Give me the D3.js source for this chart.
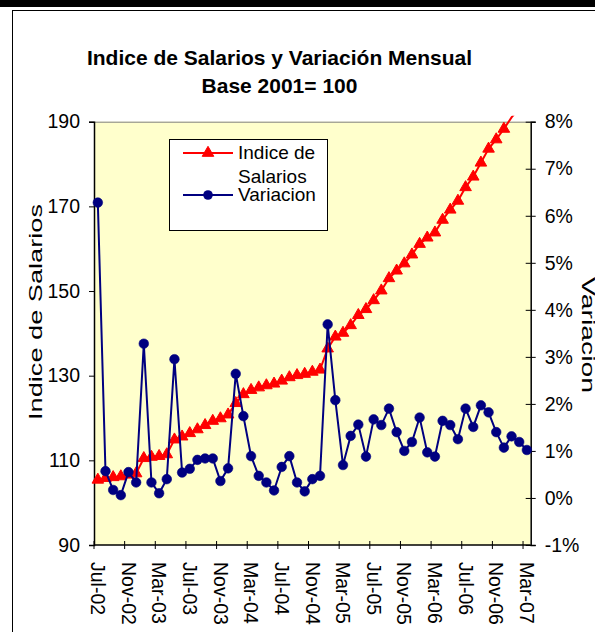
<!DOCTYPE html>
<html>
<head>
<meta charset="utf-8">
<script src="https://cdn.jsdelivr.net/npm/d3@7"></script>
<style>
  body { margin: 0; background: #fff; }
  text { font-family: "Liberation Sans", Arial, sans-serif; fill: #000; }
  .title { font-weight: bold; font-size: 21px; }
  .tick-label { font-size: 19.5px; }
  .axis-title { font-size: 19px; }
  .legend-text { font-size: 19px; }
</style>
</head>
<body>
<svg class="chart-svg" width="595" height="632"></svg>
<script>

// months on the category axis, Jul-02 .. Mar-07
var months = ["Jul-02","Aug-02","Sep-02","Oct-02","Nov-02","Dec-02",
	"Jan-03","Feb-03","Mar-03","Apr-03","May-03","Jun-03","Jul-03","Aug-03","Sep-03","Oct-03","Nov-03","Dec-03",
	"Jan-04","Feb-04","Mar-04","Apr-04","May-04","Jun-04","Jul-04","Aug-04","Sep-04","Oct-04","Nov-04","Dec-04",
	"Jan-05","Feb-05","Mar-05","Apr-05","May-05","Jun-05","Jul-05","Aug-05","Sep-05","Oct-05","Nov-05","Dec-05",
	"Jan-06","Feb-06","Mar-06","Apr-06","May-06","Jun-06","Jul-06","Aug-06","Sep-06","Oct-06","Nov-06","Dec-06",
	"Jan-07","Feb-07","Mar-07"];

// Indice de Salarios (left axis)
var indice = [105.4, 105.8, 106.0, 106.2, 106.6, 106.9, 110.5, 110.8, 111.0, 111.4,
	114.9, 115.6, 116.4, 117.3, 118.3, 119.3, 119.9, 120.8, 123.5, 125.6,
	126.6, 127.2, 127.7, 128.1, 128.8, 129.6, 130.1, 130.4, 130.9, 131.4,
	136.4, 139.2, 140.1, 141.9, 144.3, 145.7, 147.8, 150.1, 153.0, 154.8,
	156.5, 158.6, 161.1, 162.6, 163.8, 166.8, 169.2, 171.3, 174.5, 177.0,
	180.3, 183.6, 185.8, 188.3, 191.0, 193.2, 195.4];

// Variacion mensual, in % (right axis)
var variacion = [6.28, 0.57, 0.17, 0.06, 0.55, 0.33, 3.28, 0.33, 0.10, 0.40,
	2.95, 0.54, 0.62, 0.81, 0.84, 0.84, 0.36, 0.63, 2.64, 1.74,
	0.89, 0.47, 0.33, 0.16, 0.66, 0.89, 0.33, 0.14, 0.40, 0.47,
	3.69, 2.08, 0.70, 1.32, 1.56, 0.88, 1.67, 1.55, 1.90, 1.40,
	1.00, 1.19, 1.71, 0.97, 0.88, 1.64, 1.55, 1.25, 1.90, 1.51,
	1.97, 1.82, 1.40, 1.07, 1.31, 1.19, 1.02];

var leftTicks = [90, 110, 130, 150, 170, 190];
var rightTicks = [-1, 0, 1, 2, 3, 4, 5, 6, 7, 8];
var monthTicks = ["Jul-02","Nov-02","Mar-03","Jul-03","Nov-03","Mar-04","Jul-04","Nov-04",
	"Mar-05","Jul-05","Nov-05","Mar-06","Jul-06","Nov-06","Mar-07"];

var svg = d3.select(".chart-svg");

// plot area edges
var pLeft = 94, pRight = 530.7, pTop = 121.7, pBottom = 545;

var x = d3.scaleBand().domain(months).range([pLeft, pRight]);
var yL = d3.scaleLinear().domain([90, 190]).range([pBottom, pTop]);
var yR = d3.scaleLinear().domain([-1, 8]).range([pBottom, pTop]);
var cx = function(i) { return x(months[i]) + x.bandwidth() / 2; };

// outer frame
svg.append("rect")
	.attr("x", 0).attr("y", 0).attr("width", 595).attr("height", 7)
	.attr("fill", "#000");
svg.append("rect")
	.attr("x", 12.5).attr("y", 10.5).attr("width", 600).attr("height", 640)
	.attr("fill", "#fff").attr("stroke", "#000").attr("stroke-width", 1);

// title
svg.append("text").attr("class", "title")
	.attr("x", 279.5).attr("y", 64.5).attr("text-anchor", "middle")
	.text("Indice de Salarios y Variación Mensual");
svg.append("text").attr("class", "title")
	.attr("x", 279.5).attr("y", 92.5).attr("text-anchor", "middle")
	.text("Base 2001= 100");

// plot background
svg.append("rect")
	.attr("x", pLeft).attr("y", pTop)
	.attr("width", pRight - pLeft).attr("height", pBottom - pTop)
	.attr("fill", "#FFFFCC");
svg.append("line")
	.attr("x1", pLeft).attr("x2", pRight).attr("y1", pTop + 0.5).attr("y2", pTop + 0.5)
	.attr("stroke", "#808080");

svg.append("clipPath").attr("id", "plot-clip")
	.append("rect")
	.attr("x", pLeft - 6).attr("y", pTop - 6)
	.attr("width", pRight - pLeft + 12).attr("height", pBottom - pTop + 12);

// left axis
var axL = svg.append("g")
	.attr("transform", "translate(" + pLeft + ",0)")
	.call(d3.axisLeft(yL).tickValues(leftTicks).tickSize(5).tickPadding(9));
axL.select(".domain").attr("stroke", "#000").attr("stroke-width", 1.5);
axL.selectAll(".tick line").attr("stroke", "#000");
axL.selectAll(".tick text").attr("class", "tick-label");
axL.attr("font-size", null).attr("font-family", null);

// right axis
var axR = svg.append("g")
	.attr("transform", "translate(" + pRight + ",0)")
	.call(d3.axisRight(yR).tickValues(rightTicks).tickSize(5).tickPadding(9)
		.tickFormat(function(d) { return d + "%"; }));
axR.select(".domain").attr("stroke", "#000").attr("stroke-width", 1.5);
axR.selectAll(".tick line").attr("x1", -5).attr("stroke", "#000");
axR.selectAll(".tick text").attr("class", "tick-label");
axR.attr("font-size", null).attr("font-family", null);

// bottom axis: ticks at band edges, labels at band centres
var axB = svg.append("g");
axB.append("line")
	.attr("x1", pLeft).attr("x2", pRight).attr("y1", pBottom).attr("y2", pBottom)
	.attr("stroke", "#000").attr("stroke-width", 1.5);
axB.selectAll(".xtick").data(monthTicks).enter().append("line")
	.attr("class", "xtick")
	.attr("x1", function(d) { return x(d); }).attr("x2", function(d) { return x(d); })
	.attr("y1", pBottom - 4).attr("y2", pBottom + 4)
	.attr("stroke", "#000");
axB.selectAll(".xlabel").data(monthTicks).enter().append("text")
	.attr("class", "tick-label")
	.attr("transform", function(d) {
		return "translate(" + (x(d) + x.bandwidth() / 2) + "," + 562 + ") rotate(90)";
	})
	.attr("dy", "0.35em")
	.text(function(d) { return d; });

// axis titles (Excel stretches rotated text, so fix the length)
svg.append("text").attr("class", "axis-title")
	.attr("transform", "translate(" + 41.5 + "," + 312 + ") rotate(-90)")
	.attr("text-anchor", "middle")
	.attr("textLength", 216).attr("lengthAdjust", "spacingAndGlyphs")
	.text("Indice de Salarios");
svg.append("text").attr("class", "axis-title")
	.attr("transform", "translate(" + 582 + "," + 335 + ") rotate(90)")
	.attr("text-anchor", "middle")
	.attr("textLength", 116).attr("lengthAdjust", "spacingAndGlyphs")
	.text("Variacion");

var plot = svg.append("g").attr("clip-path", "url(#plot-clip)");

// Indice series
var lineL = d3.line()
	.x(function(d, i) { return cx(i); })
	.y(function(d) { return yL(d); });
plot.append("path")
	.datum(indice)
	.attr("fill", "none").attr("stroke", "#FF0000").attr("stroke-width", 2)
	.attr("d", lineL);
var tri = d3.symbol().type(d3.symbolTriangle).size(58);
plot.selectAll(".tri").data(indice).enter()
	.append("path")
	.attr("class", "tri")
	.attr("transform", function(d, i) { return "translate(" + cx(i) + "," + yL(d) + ")"; })
	.attr("d", tri)
	.attr("fill", "#FF0000").attr("stroke", "#FF0000").attr("stroke-width", 1)
	.attr("display", function(d) { return d > 190 ? "none" : null; });

// Variacion series
var lineR = d3.line()
	.x(function(d, i) { return cx(i); })
	.y(function(d) { return yR(d); });
plot.append("path")
	.datum(variacion)
	.attr("fill", "none").attr("stroke", "#000080").attr("stroke-width", 2)
	.attr("d", lineR);
plot.selectAll(".dot").data(variacion).enter().append("circle")
	.attr("class", "dot")
	.attr("cx", function(d, i) { return cx(i); })
	.attr("cy", function(d) { return yR(d); })
	.attr("r", 4.8)
	.attr("fill", "#000080").attr("stroke", "#000080").attr("stroke-width", 0.6);

// legend
var legend = svg.append("g");
legend.append("rect")
	.attr("x", 169.5).attr("y", 139.5).attr("width", 158).attr("height", 91)
	.attr("fill", "#fff").attr("stroke", "#000");
legend.append("line")
	.attr("x1", 183).attr("x2", 233).attr("y1", 153).attr("y2", 153)
	.attr("stroke", "#FF0000").attr("stroke-width", 2);
legend.append("path")
	.attr("transform", "translate(208,153)")
	.attr("d", tri).attr("fill", "#FF0000").attr("stroke", "#FF0000");
legend.append("text").attr("class", "legend-text")
	.attr("x", 238).attr("y", 159).text("Indice de");
legend.append("text").attr("class", "legend-text")
	.attr("x", 238).attr("y", 183).text("Salarios");
legend.append("line")
	.attr("x1", 183).attr("x2", 233).attr("y1", 195).attr("y2", 195)
	.attr("stroke", "#000080").attr("stroke-width", 2);
legend.append("circle")
	.attr("cx", 208).attr("cy", 195).attr("r", 4.8)
	.attr("fill", "#000080");
legend.append("text").attr("class", "legend-text")
	.attr("x", 238).attr("y", 201).text("Variacion");

</script>
</body>
</html>
